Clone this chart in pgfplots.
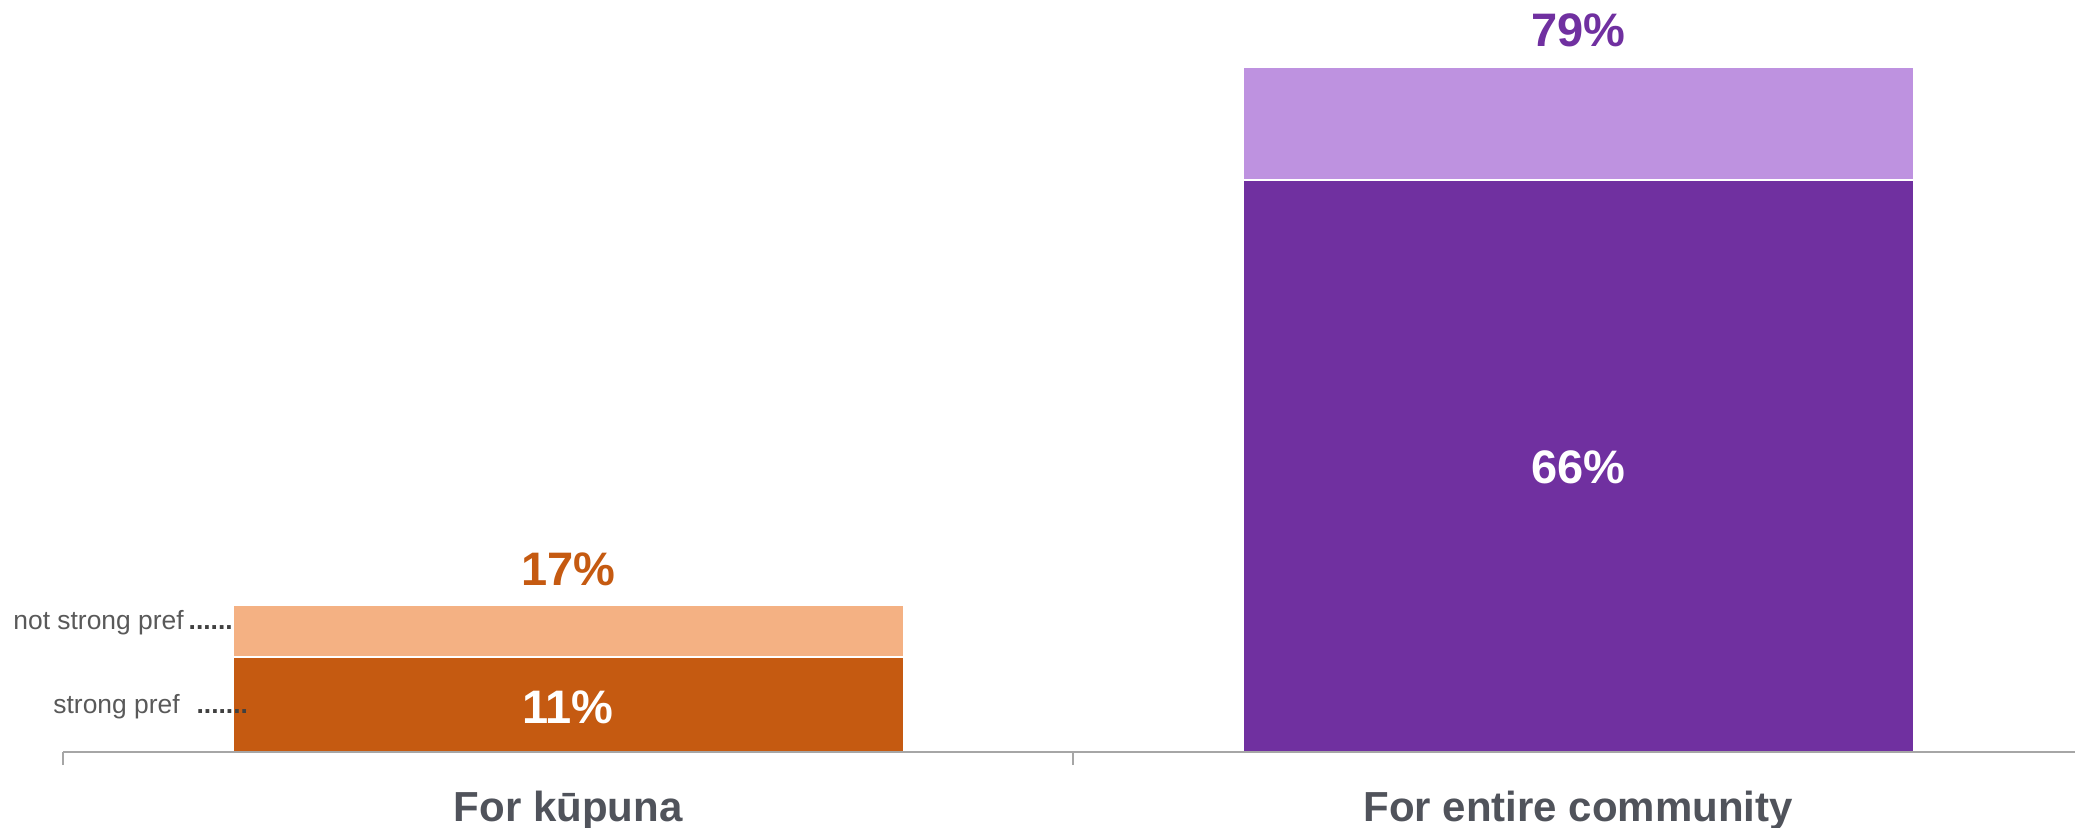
\documentclass[border=0pt]{standalone}
\usepackage{fontspec}
\setmainfont{Liberation Sans}
\usepackage{pgfplots}
\pgfplotsset{compat=1.18}
\definecolor{darkorange}{HTML}{C55A11}
\definecolor{lightorange}{HTML}{F4B183}
\definecolor{darkpurple}{HTML}{7030A0}
\definecolor{lightpurple}{HTML}{BE92E0}
\definecolor{labelgray}{HTML}{50535B}
\definecolor{legendgray}{HTML}{595959}
\definecolor{dotgray}{HTML}{404040}
\definecolor{axisgray}{HTML}{A6A6A6}
\begin{document}
\begin{tikzpicture}
\begin{axis}[
  x=505pt, y=4.335pt,
  xmin=-0.5, xmax=1.492, ymin=0, ymax=86.74,
  axis x line*=bottom, axis y line=none,
  x axis line style={axisgray, line width=1pt, -},
  xtick={-0.5,0.5}, xticklabels={},
  major tick length=6.5pt, tick align=outside,
  major tick style={axisgray, line width=1pt},
  ytick=\empty,
  clip=false, axis on top,
  mybar/.style={ybar, bar width=335.5pt, bar shift=0pt, draw=white, line width=1pt},
]
\addplot[mybar, fill=lightorange] coordinates {(0,17)};
\addplot[mybar, fill=lightpurple] coordinates {(1,79)};
\addplot[mybar, fill=darkorange] coordinates {(0,11)};
\addplot[mybar, fill=darkpurple] coordinates {(1,66)};

\node[anchor=base, inner sep=0, font=\bfseries\fontsize{23.5}{28}\selectfont, text=darkorange] at (axis cs:0,19.26) {17\%};
\node[anchor=base, inner sep=0, font=\bfseries\fontsize{23.5}{28}\selectfont, text=darkpurple] at (axis cs:1,81.43) {79\%};
\node[anchor=base, inner sep=0, font=\bfseries\fontsize{23.5}{28}\selectfont, text=white] at (axis cs:0,3.34) {11\%};
\node[anchor=base, inner sep=0, font=\bfseries\fontsize{23.5}{28}\selectfont, text=white] at (axis cs:1,30.97) {66\%};

\node[anchor=base, inner sep=0, font=\bfseries\fontsize{21}{25}\selectfont, text=labelgray] at (axis cs:0,-7.96) {For kūpuna};
\node[anchor=base, inner sep=0, font=\bfseries\fontsize{21}{25}\selectfont, text=labelgray] at (axis cs:1,-7.96) {For entire community};

\node[anchor=base west, inner sep=0, font=\fontsize{13.2}{16}\selectfont, text=legendgray] at (axis cs:-0.5495,14.19) {not strong pref\hspace{2.5pt}\textcolor{dotgray}{\textbf{......}}};
\node[anchor=base west, inner sep=0, font=\fontsize{13.2}{16}\selectfont, text=legendgray] at (axis cs:-0.5099,4.5) {strong pref\hspace{8.5pt}\textcolor{dotgray}{\textbf{.......}}};

\coordinate (bl) at (axis cs:-0.5624,-8.65);
\coordinate (tr) at (axis cs:1.492,86.74);
\end{axis}
\pgfresetboundingbox
\useasboundingbox (bl) rectangle (tr);
\end{tikzpicture}
\end{document}
